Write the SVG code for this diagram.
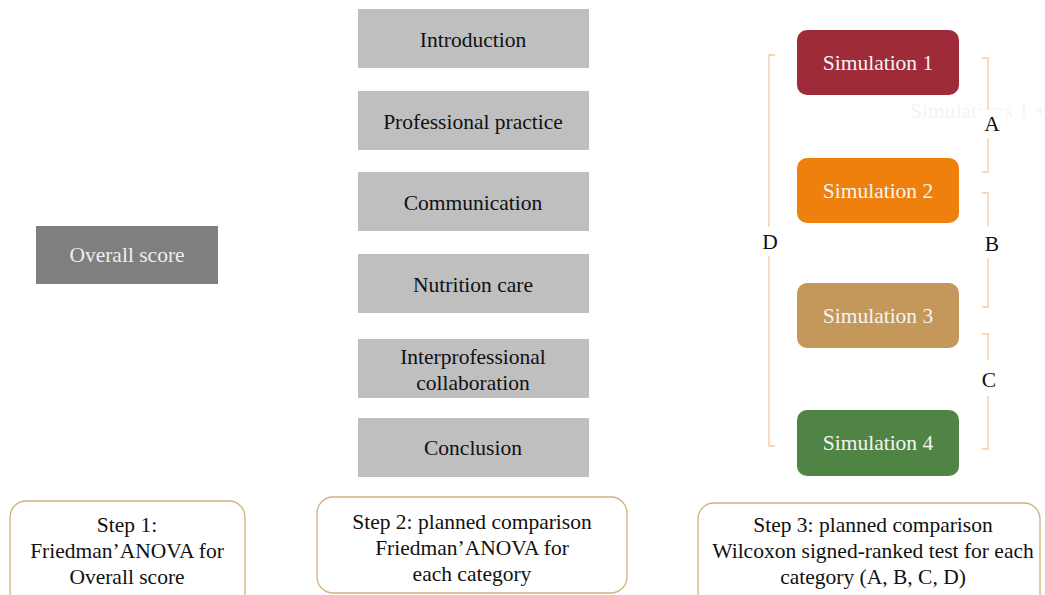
<svg xmlns="http://www.w3.org/2000/svg" width="1045" height="595" viewBox="0 0 1045 595">
  <style>
    text { font-family: "Liberation Serif", "Times New Roman", serif; font-size: 21.5px; text-anchor: middle; }
    .cat rect { fill: #bfbfbf; }
    .cat text { fill: #111; }
    .sim text { fill: #f4f4f4; }
    .step rect { fill: #fff; stroke: #d2b07e; stroke-width: 1.3; }
    .step text { fill: #111; }
    .brace { fill: none; stroke: #f8c9a0; stroke-width: 1.3; }
    .lbl rect { fill: #fff; }
    .lbl text { fill: #111; }
  </style>

  <rect width="1045" height="595" fill="#fff"/>

  <!-- faint background caption -->
  <text x="910" y="118" style="text-anchor:start; fill:#f4f4f4">Simulations 1 +</text>

  <!-- overall score -->
  <g id="overall">
    <rect x="36" y="226" width="182" height="58" fill="#7f7f7f"/>
    <text x="127" y="262" fill="#eeeeee">Overall score</text>
  </g>

  <!-- categories -->
  <g id="introduction" class="cat">
    <rect x="358" y="9" width="231" height="59"/>
    <text x="473" y="47">Introduction</text>
  </g>
  <g id="professional-practice" class="cat">
    <rect x="358" y="91" width="231" height="59"/>
    <text x="473" y="129">Professional practice</text>
  </g>
  <g id="communication" class="cat">
    <rect x="358" y="172" width="231" height="59"/>
    <text x="473" y="210">Communication</text>
  </g>
  <g id="nutrition-care" class="cat">
    <rect x="358" y="254" width="231" height="59"/>
    <text x="473" y="292">Nutrition care</text>
  </g>
  <g id="interprofessional" class="cat">
    <rect x="358" y="339" width="231" height="59"/>
    <text x="473" y="364">Interprofessional</text>
    <text x="473" y="390">collaboration</text>
  </g>
  <g id="conclusion" class="cat">
    <rect x="358" y="418" width="231" height="59"/>
    <text x="473" y="455">Conclusion</text>
  </g>

  <!-- comparison brackets -->
  <g id="connectors">
    <path class="brace" d="M775,55 H769 V446 H775"/>
    <path class="brace" d="M982,58 H988 V172 H982"/>
    <path class="brace" d="M982,193 H988 V307 H982"/>
    <path class="brace" d="M982,334 H988 V449 H982"/>
    <g class="lbl">
      <rect x="757" y="227" width="26" height="29"/>
      <text x="770" y="249">D</text>
      <rect x="976" y="110" width="30" height="28"/>
      <text x="992" y="131">A</text>
      <rect x="976" y="226" width="30" height="32"/>
      <text x="992" y="251">B</text>
      <rect x="976" y="360" width="26" height="36"/>
      <text x="989" y="387">C</text>
    </g>
  </g>

  <!-- simulations -->
  <g id="simulation-1" class="sim">
    <rect x="797" y="30" width="162" height="65" rx="10" fill="#9f2a38"/>
    <text x="878" y="70">Simulation 1</text>
  </g>
  <g id="simulation-2" class="sim">
    <rect x="797" y="158" width="162" height="65" rx="10" fill="#ef800e"/>
    <text x="878" y="198">Simulation 2</text>
  </g>
  <g id="simulation-3" class="sim">
    <rect x="797" y="283" width="162" height="65" rx="10" fill="#c4975a"/>
    <text x="878" y="323">Simulation 3</text>
  </g>
  <g id="simulation-4" class="sim">
    <rect x="797" y="410" width="162" height="66" rx="10" fill="#4f8444"/>
    <text x="878" y="450">Simulation 4</text>
  </g>

  <!-- analysis steps -->
  <g id="step-1" class="step">
    <rect x="10" y="501" width="235" height="110" rx="16"/>
    <text x="127" y="532">Step 1:</text>
    <text x="127" y="558">Friedman’ANOVA for</text>
    <text x="127" y="584">Overall score</text>
  </g>
  <g id="step-2" class="step">
    <rect x="317" y="497" width="310" height="96" rx="16"/>
    <text x="472" y="529">Step 2: planned comparison</text>
    <text x="472" y="555">Friedman’ANOVA for</text>
    <text x="472" y="581">each category</text>
  </g>
  <g id="step-3" class="step">
    <rect x="698" y="503" width="342" height="110" rx="16"/>
    <text x="873" y="532">Step 3: planned comparison</text>
    <text x="873" y="558">Wilcoxon signed-ranked test for each</text>
    <text x="873" y="584">category (A, B, C, D)</text>
  </g>
</svg>
